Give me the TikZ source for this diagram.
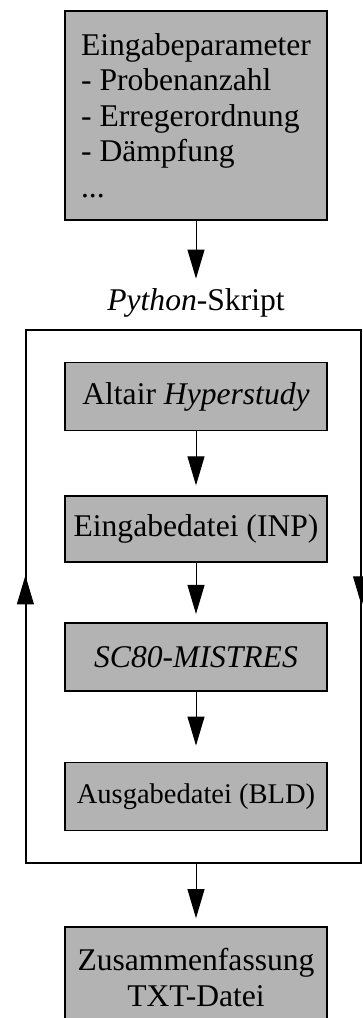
\documentclass[tikz,border=0pt]{standalone}
\usepackage{fontspec}
\setmainfont{Liberation Serif}
\usetikzlibrary{arrows.meta,positioning,calc,fit}
\definecolor{Grau}{HTML}{B3B3B3}
\tikzset{
  arr/.style={-{Triangle[length=29pt,width=17pt]},line width=1pt,draw=black},
  graubox/.style={draw=black,fill=Grau,line width=1.6pt,minimum width=262pt,minimum height=68pt,inner sep=4pt,font=\fontsize{31.6}{35.5}\selectfont},
  rahmen/.style={draw=black,line width=1.6pt,inner sep=0pt}
}
\begin{document}
\begin{tikzpicture}[x=1pt,y=-1pt,node distance=64pt]
  \useasboundingbox (0,0) rectangle (362,1018);
  \node[graubox,anchor=north,minimum height=209pt,align=left] (param) at (196,10) {Eingabeparameter\\- Probenanzahl\\- Erregerordnung\\- Dämpfung\\...};
  \node[below=64pt of param,inner sep=4pt,font=\fontsize{31.6}{35.5}\selectfont] (skript) {\textit{Python}-Skript};
  \node[graubox,below=40pt of skript] (alt) {Altair \textit{Hyperstudy}};
  \node[graubox,below=64pt of alt,minimum height=66pt] (inp) {Eingabedatei (INP)};
  \node[graubox,below=59pt of inp] (sc80) {\textit{SC80-MISTRES}};
  \node[graubox,below=70pt of sc80,font=\fontsize{28.5}{32}\selectfont] (aus) {Ausgabedatei (BLD)};
  \node[rahmen,fit={($(alt.north west)+(-38,-32)$) ($(aus.south east)+(33,32)$)}] (rahmen) {};
  \node[graubox,below=95pt of aus,minimum height=101pt,align=center] (zus) {Zusammenfassung\\TXT-Datei};
  \draw[arr,shorten >=6pt] (param) -- (skript);
  \draw[arr,shorten >=10pt] (alt) -- (inp);
  \draw[arr,shorten >=8pt] (inp) -- (sc80);
  \draw[arr,shorten >=16pt] (sc80) -- (aus);
  \draw[arr,shorten >=8pt] (zus.north |- rahmen.south) -- (zus);
  \draw[arr] (rahmen.south west) -- ([yshift=21pt]rahmen.west);
  \draw[arr] (rahmen.north east) -- ([yshift=-9pt]rahmen.east);
\end{tikzpicture}
\end{document}
